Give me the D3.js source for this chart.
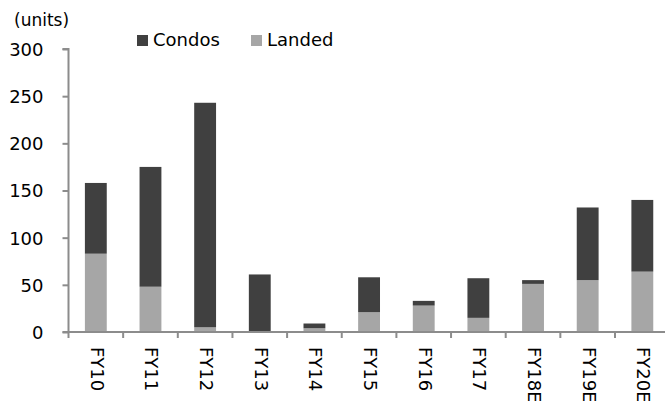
<!DOCTYPE html>
<html>
<head>
<meta charset="utf-8">
<script src="https://cdn.jsdelivr.net/npm/d3@7"></script>
<style>
  body { margin: 0; background: #fff; }
  text { font-family: "DejaVu Sans", sans-serif; fill: #000; }
</style>
</head>
<body>
<svg></svg>
<script>
const years = ["FY10", "FY11", "FY12", "FY13", "FY14", "FY15", "FY16", "FY17", "FY18E", "FY19E", "FY20E"];
const landed = [83, 48, 5, 1, 4, 21, 28, 15, 51, 55, 64];
const condos = [75, 127, 238, 60, 5, 37, 5, 42, 4, 77, 76];
const yTicks = [0, 50, 100, 150, 200, 250, 300];

const width = 665, height = 401;
const margin = {top: 49, left: 68.5, bottom: 69};
const axisColor = "#8c8c8c";

let svg = d3.select("svg").attr("width", width).attr("height", height);

let x = d3.scaleBand().domain(years)
  .range([margin.left, margin.left + years.length * 54.65])
  .paddingInner(0.6).paddingOuter(0.3);
let y = d3.scaleLinear().domain([0, 300]).range([height - margin.bottom, margin.top]);

// stack the two series
let rows = years.map((yr, i) => ({year: yr, Landed: landed[i], Condos: condos[i]}));
let series = d3.stack().keys(["Landed", "Condos"])(rows);
let colors = {Landed: "#a6a6a6", Condos: "#404040"};

svg.append("g").selectAll("g")
  .data(series).enter()
  .append("g").attr("fill", s => colors[s.key])
  .selectAll("rect")
  .data(s => s).enter()
  .append("rect")
  .attr("x", d => x(d.data.year))
  .attr("width", x.bandwidth())
  .attr("y", d => y(d[1]))
  .attr("height", d => y(d[0]) - y(d[1]));

// y axis
let yAxis = svg.append("g")
  .attr("transform", `translate(${margin.left},0)`)
  .call(d3.axisLeft(y).tickValues(yTicks).tickSize(6).tickPadding(19));
yAxis.select(".domain").attr("stroke", axisColor).attr("stroke-width", 2)
  .attr("d", `M-6,${y(300)}H0V${y(0)}`);
yAxis.selectAll(".tick line").attr("stroke", axisColor).attr("stroke-width", 2);
yAxis.selectAll(".tick text").style("font-size", "18px").attr("dy", "0.36em");

// x axis: line + ticks at category boundaries
let x0 = y(0);
let xAxis = svg.append("g");
xAxis.append("line")
  .attr("x1", margin.left - 6).attr("x2", width)
  .attr("y1", x0).attr("y2", x0)
  .attr("stroke", axisColor).attr("stroke-width", 2);
xAxis.selectAll(".bt")
  .data(d3.range(years.length + 1)).enter()
  .append("line")
  .attr("x1", i => margin.left + i * x.step())
  .attr("x2", i => margin.left + i * x.step())
  .attr("y1", x0).attr("y2", x0 + 6)
  .attr("stroke", axisColor).attr("stroke-width", 2);
xAxis.selectAll(".lbl")
  .data(years).enter()
  .append("text")
  .attr("transform", d => `translate(${x(d) + x.bandwidth() / 2},${x0 + 15}) rotate(90)`)
  .attr("dominant-baseline", "middle")
  .style("font-size", "18px")
  .text(d => d);

// units label
svg.append("text").attr("x", 14).attr("y", 26).style("font-size", "17px").text("(units)");

// legend
let legend = [{key: "Condos", x: 137}, {key: "Landed", x: 251}];
let lg = svg.selectAll(".leg").data(legend).enter().append("g")
  .attr("transform", d => `translate(${d.x},35)`);
lg.append("rect").attr("width", 11).attr("height", 11).attr("fill", d => colors[d.key]);
lg.append("text").attr("x", 16).attr("y", 11).style("font-size", "18px").text(d => d.key);
</script>
</body>
</html>
